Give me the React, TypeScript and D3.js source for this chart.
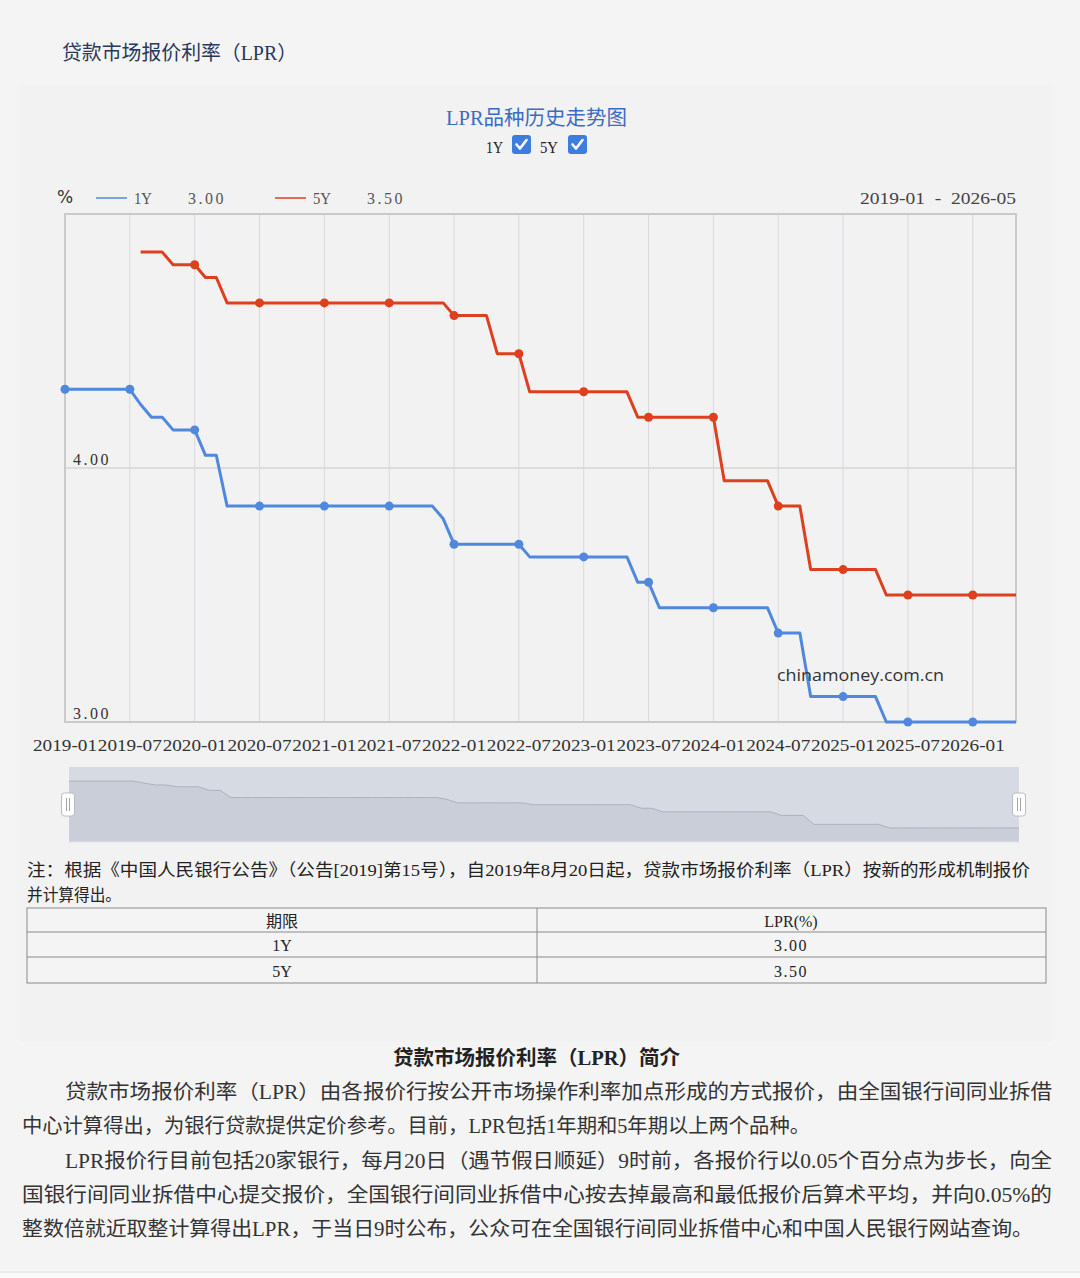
import React from "react";
import * as d3 from "d3";

const months = [
  "2019-01","2019-02","2019-03","2019-04","2019-05","2019-06","2019-07","2019-08","2019-09","2019-10","2019-11","2019-12",
  "2020-01","2020-02","2020-03","2020-04","2020-05","2020-06","2020-07","2020-08","2020-09","2020-10","2020-11","2020-12",
  "2021-01","2021-02","2021-03","2021-04","2021-05","2021-06","2021-07","2021-08","2021-09","2021-10","2021-11","2021-12",
  "2022-01","2022-02","2022-03","2022-04","2022-05","2022-06","2022-07","2022-08","2022-09","2022-10","2022-11","2022-12",
  "2023-01","2023-02","2023-03","2023-04","2023-05","2023-06","2023-07","2023-08","2023-09","2023-10","2023-11","2023-12",
  "2024-01","2024-02","2024-03","2024-04","2024-05","2024-06","2024-07","2024-08","2024-09","2024-10","2024-11","2024-12",
  "2025-01","2025-02","2025-03","2025-04","2025-05","2025-06","2025-07","2025-08","2025-09","2025-10","2025-11","2025-12",
  "2026-01","2026-02","2026-03","2026-04","2026-05",
];

const lpr1Y: (number | null)[] = [
  4.31,4.31,4.31,4.31,4.31,4.31,4.31,4.25,4.20,4.20,4.15,4.15,
  4.15,4.05,4.05,3.85,3.85,3.85,3.85,3.85,3.85,3.85,3.85,3.85,
  3.85,3.85,3.85,3.85,3.85,3.85,3.85,3.85,3.85,3.85,3.85,3.80,
  3.70,3.70,3.70,3.70,3.70,3.70,3.70,3.65,3.65,3.65,3.65,3.65,
  3.65,3.65,3.65,3.65,3.65,3.55,3.55,3.45,3.45,3.45,3.45,3.45,
  3.45,3.45,3.45,3.45,3.45,3.45,3.35,3.35,3.35,3.10,3.10,3.10,
  3.10,3.10,3.10,3.10,3.00,3.00,3.00,3.00,3.00,3.00,3.00,3.00,
  3.00,3.00,3.00,3.00,3.00,
];

const lpr5Y: (number | null)[] = [
  null,null,null,null,null,null,null,4.85,4.85,4.85,4.80,4.80,
  4.80,4.75,4.75,4.65,4.65,4.65,4.65,4.65,4.65,4.65,4.65,4.65,
  4.65,4.65,4.65,4.65,4.65,4.65,4.65,4.65,4.65,4.65,4.65,4.65,
  4.60,4.60,4.60,4.60,4.45,4.45,4.45,4.30,4.30,4.30,4.30,4.30,
  4.30,4.30,4.30,4.30,4.30,4.20,4.20,4.20,4.20,4.20,4.20,4.20,
  4.20,3.95,3.95,3.95,3.95,3.95,3.85,3.85,3.85,3.60,3.60,3.60,
  3.60,3.60,3.60,3.60,3.50,3.50,3.50,3.50,3.50,3.50,3.50,3.50,
  3.50,3.50,3.50,3.50,3.50,
];

const tickMonths = [
  "2019-01","2019-07","2020-01","2020-07","2021-01","2021-07","2022-01","2022-07",
  "2023-01","2023-07","2024-01","2024-07","2025-01","2025-07","2026-01",
];

const yTicks = [3, 4];
const seriesNames = ["1Y", "5Y"];
const seriesLatest = ["3.00", "3.50"];
const seriesColors = ["#5088de", "#de401f"];
const dateRange = "2019-01 - 2026-05";

const tableHeader = ["期限", "LPR(%)"];
const tableTerms = ["1Y", "5Y"];
const tableRates = ["3.00", "3.50"];

const pageTitle = "贷款市场报价利率（LPR）";
const chartTitle = "LPR品种历史走势图";
const noteLines = [
  "注：根据《中国人民银行公告》（公告[2019]第15号），自2019年8月20日起，贷款市场报价利率（LPR）按新的形成机制报价",
  "并计算得出。",
];
const introTitle = "贷款市场报价利率（LPR）简介";
const introLines = [
  "贷款市场报价利率（LPR）由各报价行按公开市场操作利率加点形成的方式报价，由全国银行间同业拆借",
  "中心计算得出，为银行贷款提供定价参考。目前，LPR包括1年期和5年期以上两个品种。",
  "LPR报价行目前包括20家银行，每月20日（遇节假日顺延）9时前，各报价行以0.05个百分点为步长，向全",
  "国银行间同业拆借中心提交报价，全国银行间同业拆借中心按去掉最高和最低报价后算术平均，并向0.05%的",
  "整数倍就近取整计算得出LPR，于当日9时公布，公众可在全国银行间同业拆借中心和中国人民银行网站查询。",
];

const W = 1080;
const H = 1278;
const P = { l: 65, r: 1016, t: 214, b: 722 };
const S = { l: 69, r: 1019, t: 767, b: 842 };

const SERIF = "'Liberation Serif','Noto Sans CJK SC',serif";
const CJK = "'Noto Sans CJK SC',sans-serif";

export default function App() {
  const x = d3.scalePoint<string>().domain(months).range([P.l, P.r]);
  const y = d3.scaleLinear().domain([3, 5]).range([P.b, P.t]);

  const makeLine = (vals: (number | null)[]) =>
    d3
      .line<number | null>()
      .defined((d) => d != null)
      .x((_, i) => x(months[i]) as number)
      .y((d) => y(d as number))(vals) || "";

  const series = [lpr1Y, lpr5Y];

  // slider shadow
  const sx = d3.scalePoint<string>().domain(months).range([S.l, S.r]);
  const ext = d3.extent(lpr1Y.filter((v) => v != null) as number[]) as [number, number];
  const off = (ext[1] - ext[0]) * 0.3;
  const sy = d3.scaleLinear().domain([ext[0] - off, ext[1] + off]).range([S.b, S.t]);
  const shadowArea =
    d3
      .area<number | null>()
      .x((_, i) => sx(months[i]) as number)
      .y0(S.b)
      .y1((d) => sy(d as number))(lpr1Y) || "";
  const shadowLine =
    d3
      .line<number | null>()
      .x((_, i) => sx(months[i]) as number)
      .y((d) => sy(d as number))(lpr1Y) || "";

  const legendX = [96, 275];

  const checkbox = (bx: number, by: number) => (
    <g>
      <rect x={bx} y={by} width={19} height={19} rx={3} fill="#3d7de0" />
      <path
        d={`M${bx + 4.5},${by + 9.5} L${bx + 8},${by + 13.5} L${bx + 14.5},${by + 5}`}
        fill="none"
        stroke="#fff"
        strokeWidth={2.6}
        strokeLinecap="round"
        strokeLinejoin="round"
      />
    </g>
  );

  const handle = (hx: number) => (
    <g>
      <rect x={hx - 6.5} y={793} width={13} height={23} rx={3} fill="#fff" stroke="#b8bcc4" strokeWidth={1} />
      <line x1={hx - 1.5} y1={798} x2={hx - 1.5} y2={811} stroke="#a0a4ac" strokeWidth={1} />
      <line x1={hx + 1.5} y1={798} x2={hx + 1.5} y2={811} stroke="#a0a4ac" strokeWidth={1} />
    </g>
  );

  const tableX = [27, 537, 1046];
  const tableY = [908, 932, 957, 983];

  return (
    <svg
      width={W}
      height={H}
      viewBox={`0 0 ${W} ${H}`}
      style={{ position: "absolute", left: 0, top: 0, display: "block" }}
    >
      <rect x={0} y={0} width={W} height={H} fill="#f4f4f4" />
      <rect x={20} y={85} width={1032} height={957} fill="#f2f2f2" />
      <line x1={0} y1={1272} x2={W} y2={1272} stroke="#e0e0e0" strokeWidth={1} />
      <rect x={0} y={1273} width={W} height={5} fill="#f9f9f9" />

      {/* page title */}
      <text
        x={62}
        y={53}
        dominantBaseline="central"
        fontFamily={SERIF}
        fontSize={20}
        fill="#27385a"
        textLength={235}
        lengthAdjust="spacingAndGlyphs"
      >
        {pageTitle}
      </text>

      {/* chart title */}
      <text
        x={446}
        y={118}
        dominantBaseline="central"
        fontFamily={SERIF}
        fontSize={20}
        fill="#3b6cc4"
        textLength={181}
        lengthAdjust="spacingAndGlyphs"
      >
        {chartTitle}
      </text>
      <text x={486} y={147} dominantBaseline="central" fontFamily={SERIF} fontSize={17} fill="#222" textLength={17} lengthAdjust="spacingAndGlyphs">
        {seriesNames[0]}
      </text>
      {checkbox(512, 135)}
      <text x={540} y={147} dominantBaseline="central" fontFamily={SERIF} fontSize={17} fill="#222" textLength={18} lengthAdjust="spacingAndGlyphs">
        {seriesNames[1]}
      </text>
      {checkbox(568, 135)}

      {/* legend */}
      <text x={57} y={197} dominantBaseline="central" fontFamily="'DejaVu Sans',sans-serif" fontSize={17} fill="#333">
        %
      </text>
      {seriesNames.map((n, i) => (
        <g key={n}>
          <line x1={legendX[i]} y1={198} x2={legendX[i] + 31} y2={198} stroke={seriesColors[i]} strokeWidth={1.5} />
          <text x={legendX[i] + 38} y={198} dominantBaseline="central" fontFamily={SERIF} fontSize={16} fill="#555" textLength={18} lengthAdjust="spacingAndGlyphs">
            {n}
          </text>
          <text x={legendX[i] + 92} y={198} dominantBaseline="central" fontFamily={SERIF} fontSize={16} fill="#555" letterSpacing={2.5}>
            {seriesLatest[i]}
          </text>
        </g>
      ))}
      <text
        x={1016}
        y={198}
        dominantBaseline="central"
        textAnchor="end"
        fontFamily={SERIF}
        fontSize={16}
        fill="#444"
        textLength={156}
        lengthAdjust="spacingAndGlyphs"
        xmlSpace="preserve"
      >
        {dateRange.replace(" - ", "  -  ")}
      </text>

      {/* grid */}
      {tickMonths.map((m) => (
        <line key={m} x1={x(m)} y1={P.t} x2={x(m)} y2={P.b} stroke="#d9d9dd" strokeWidth={1} />
      ))}
      {yTicks.map((t) => (
        <line key={t} x1={P.l} y1={y(t)} x2={P.r} y2={y(t)} stroke="#d6d6d6" strokeWidth={1.5} />
      ))}
      <rect x={P.l} y={P.t} width={P.r - P.l} height={P.b - P.t} fill="none" stroke="#cacaca" strokeWidth={2} />
      {yTicks.map((t) => (
        <text
          key={"yl" + t}
          x={73}
          y={y(t) - 9}
          dominantBaseline="central"
          fontFamily={SERIF}
          fontSize={16}
          fill="#333"
          letterSpacing={2.5}
        >
          {t.toFixed(2)}
        </text>
      ))}
      {tickMonths.map((m) => (
        <text
          key={"xl" + m}
          x={(x(m) as number) - 32}
          y={745}
          dominantBaseline="central"
          fontFamily={SERIF}
          fontSize={17}
          fill="#333"
          textLength={64}
          lengthAdjust="spacingAndGlyphs"
        >
          {m}
        </text>
      ))}

      {/* series */}
      {series.map((vals, si) => (
        <g key={"s" + si}>
          <path d={makeLine(vals)} fill="none" stroke={seriesColors[si]} strokeWidth={3} strokeLinejoin="round" />
          {tickMonths.map((m) => {
            const v = vals[months.indexOf(m)];
            if (v == null) return null;
            return <circle key={m} cx={x(m)} cy={y(v)} r={4.5} fill={seriesColors[si]} />;
          })}
        </g>
      ))}

      {/* watermark */}
      <text
        x={777}
        y={674}
        dominantBaseline="central"
        fontFamily="'Open Sans','Noto Sans',sans-serif"
        fontSize={17}
        fill="#333"
        textLength={167}
        lengthAdjust="spacingAndGlyphs"
      >
        chinamoney.com.cn
      </text>

      {/* slider */}
      <rect x={S.l} y={S.t} width={S.r - S.l} height={S.b - S.t} fill="#d6dae2" />
      <path d={shadowArea} fill="#c9ced8" />
      <path d={shadowLine} fill="none" stroke="#acb3bf" strokeWidth={1} />
      <line x1={S.l} y1={S.b} x2={S.r} y2={S.b} stroke="#dfe2e8" strokeWidth={1} />
      {handle(68)}
      {handle(1019)}

      {/* note */}
      {noteLines.map((t, i) => (
        <text
          key={"n" + i}
          x={27}
          y={870 + i * 25}
          dominantBaseline="central"
          fontFamily={SERIF}
          fontSize={17}
          fill="#222"
          textLength={i === 0 ? 1003 : 94}
          lengthAdjust="spacingAndGlyphs"
        >
          {t}
        </text>
      ))}

      {/* table */}
      <rect x={tableX[0]} y={tableY[0]} width={tableX[2] - tableX[0]} height={tableY[3] - tableY[0]} fill="#f4f4f4" stroke="#8a8a8a" strokeWidth={1} />
      {tableY.slice(1, 3).map((ty) => (
        <line key={"ty" + ty} x1={tableX[0]} y1={ty} x2={tableX[2]} y2={ty} stroke="#8a8a8a" strokeWidth={1} />
      ))}
      <line x1={tableX[1]} y1={tableY[0]} x2={tableX[1]} y2={tableY[3]} stroke="#8a8a8a" strokeWidth={1} />
      {[tableHeader, [tableTerms[0], tableRates[0]], [tableTerms[1], tableRates[1]]].map((row, ri) =>
        row.map((cell, ci) => (
          <text
            key={`c${ri}-${ci}`}
            x={ci === 0 ? 282 : 791}
            y={(tableY[ri] + tableY[ri + 1]) / 2 + 1}
            dominantBaseline="central"
            textAnchor="middle"
            fontFamily={SERIF}
            fontSize={16}
            fill="#222"
            letterSpacing={ri > 0 && ci === 1 ? 1.5 : 0}
          >
            {cell}
          </text>
        ))
      )}

      {/* intro */}
      <text
        x={393}
        y={1058}
        dominantBaseline="central"
        fontFamily={SERIF}
        fontSize={20}
        fontWeight="bold"
        fill="#222"
        textLength={287}
        lengthAdjust="spacingAndGlyphs"
      >
        {introTitle}
      </text>
      {introLines.map((t, i) => {
        const starts = [65, 22, 65, 22, 22];
        const lens = [987, 788, 987, 1030, 1011];
        return (
          <text
            key={"p" + i}
            x={starts[i]}
            y={[1092, 1126, 1161, 1195, 1229][i]}
            dominantBaseline="central"
            fontFamily={SERIF}
            fontSize={20}
            fill="#333"
            textLength={lens[i]}
            lengthAdjust="spacingAndGlyphs"
          >
            {t}
          </text>
        );
      })}
    </svg>
  );
}
